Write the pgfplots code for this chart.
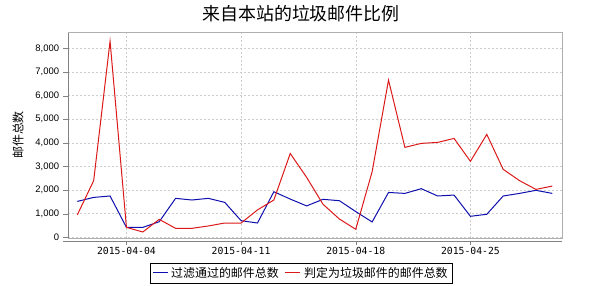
\documentclass[border=0pt]{standalone}
\usepackage{fontspec}
\usepackage{pgfplots}
\pgfplotsset{compat=1.18}
\newfontfamily\cjk{Noto Sans CJK SC}
\newfontfamily\tickfont{Liberation Sans}
\newfontfamily\datefont{DejaVu Sans Mono}
\definecolor{lblue}{RGB}{15,15,175}
\definecolor{lred}{RGB}{220,25,25}
\definecolor{gridc}{RGB}{205,205,205}
\definecolor{framec}{RGB}{175,175,175}
\definecolor{axisc}{RGB}{130,130,130}
\begin{document}
\begin{tikzpicture}
\useasboundingbox (0,0) rectangle (600bp,286bp);
\begin{axis}[
  name=main,
  at={(68.3bp,47.5bp)}, anchor=south west,
  scale only axis, width=494bp, height=205.8bp,
  xmin=0.45, xmax=30.61, ymin=-51, ymax=8669,
  xtick={4,11,18,25}, xticklabels={},
  ytick={0,1000,...,8000},
  ytick pos=left, tick align=outside,
  major tick length=5bp,
  y tick style={draw=axisc},
  x tick style={draw=none},
  grid=major,
  major grid style={draw=gridc, dashed, dash pattern=on 2bp off 2bp, line width=0.5bp},
  axis line style={draw=framec, line width=0.8bp},
  scaled y ticks=false,
  /pgf/number format/assume math mode=true,
  yticklabel style={font=\tickfont\fontsize{9.5}{10}\selectfont, /pgf/number format/1000 sep={,}, inner sep=1bp, xshift=-3bp},
]
% 过滤通过的邮件总数
\addplot[color=lblue, line width=1bp] coordinates {
(1,1520) (2,1690) (3,1750) (4,420) (5,420) (6,660) (7,1650) (8,1580) (9,1650) (10,1480)
(11,705) (12,605) (13,1930) (14,1620) (15,1330) (16,1610) (17,1550) (18,1090) (19,650) (20,1900)
(21,1860) (22,2060) (23,1750) (24,1790) (25,890) (26,975) (27,1750) (28,1860) (29,1990) (30,1860)};
% 判定为垃圾邮件的邮件总数
\addplot[color=lred, line width=1bp] coordinates {
(1,950) (2,2400) (3,8310) (4,420) (5,225) (6,760) (7,380) (8,380) (9,480) (10,605)
(11,605) (12,1160) (13,1580) (14,3550) (15,2540) (16,1400) (17,775) (18,340) (19,2780) (20,6660)
(21,3810) (22,3980) (23,4020) (24,4190) (25,3220) (26,4360) (27,2880) (28,2400) (29,2030) (30,2170)};
\end{axis}
\begin{axis}[
  at={(63bp,45bp)}, anchor=south west,
  scale only axis, width=499.3bp, height=10bp,
  xmin=0.127, xmax=30.61, ymin=0, ymax=1,
  axis x line=bottom, axis y line=none,
  x axis line style={-, draw=axisc, line width=0.8bp},
  xtick={4,11,18,25},
  xticklabels={2015-04-04,2015-04-11,2015-04-18,2015-04-25},
  ytick=\empty,
  tick align=outside, major tick length=4bp,
  x tick style={draw=axisc},
  xticklabel style={font=\datefont\fontsize{9.8}{10}\selectfont, inner sep=1bp, yshift=-1bp},
]
\end{axis}
\draw[axisc, line width=0.8bp] (68.3bp,47.5bp) -- (68.3bp,253.3bp);
\node[font=\cjk\fontsize{18}{20}\selectfont] at (301bp,272bp) {来自本站的垃圾邮件比例};
\node[font=\cjk\fontsize{12}{13}\selectfont, rotate=90] at (18bp,151bp) {邮件总数};
% legend
\draw[black, line width=0.8bp, fill=white] (150bp,2.5bp) rectangle (452bp,23bp);
\draw[lblue, line width=1bp] (153bp,13bp) -- (168bp,13bp);
\node[anchor=west, inner sep=0pt, font=\cjk\fontsize{12}{13}\selectfont] at (171bp,12.8bp) {过滤通过的邮件总数};
\draw[lred, line width=1bp] (285bp,13bp) -- (300bp,13bp);
\node[anchor=west, inner sep=0pt, font=\cjk\fontsize{12}{13}\selectfont] at (304bp,12.8bp) {判定为垃圾邮件的邮件总数};
\end{tikzpicture}
\end{document}
